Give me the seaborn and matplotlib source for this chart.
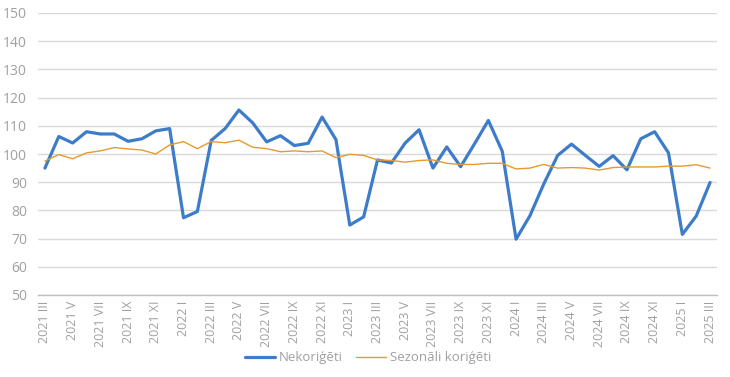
import pandas as pd
import matplotlib
matplotlib.use('Agg')
import matplotlib.pyplot as plt
import seaborn as sns
import numpy as np

# monthly index values, 2021 III .. 2025 III
nekorigeti = [95.0, 106.2, 103.9, 107.9, 107.1, 107.1, 104.5, 105.4, 108.2, 109.0,
              77.4, 79.6, 104.8, 109.0, 115.6, 111.0, 104.3, 106.5, 103.0, 103.8,
              113.1, 105.1, 74.8, 77.7, 97.9, 96.8, 103.9, 108.6, 95.0, 102.5,
              95.5, 103.6, 111.9, 101.0, 69.8, 78.1, 89.4, 99.5, 103.5, 99.5,
              95.6, 99.4, 94.4, 105.4, 107.9, 100.4, 71.5, 78.0, 89.9]
sezonali = [97.5, 99.8, 98.3, 100.4, 101.1, 102.3, 101.8, 101.4, 100.0, 103.2,
            104.4, 101.9, 104.4, 104.0, 104.9, 102.4, 101.9, 100.8, 101.1, 100.8,
            101.1, 98.7, 99.9, 99.5, 97.9, 97.7, 97.1, 97.7, 97.9, 96.7,
            96.3, 96.3, 96.7, 96.7, 94.7, 95.0, 96.3, 95.0, 95.2, 95.0,
            94.3, 95.2, 95.4, 95.4, 95.4, 95.7, 95.7, 96.2, 95.0]
tick_labels = ['2021 III', '2021 V', '2021 VII', '2021 IX', '2021 XI',
               '2022 I', '2022 III', '2022 V', '2022 VII', '2022 IX', '2022 XI',
               '2023 I', '2023 III', '2023 V', '2023 VII', '2023 IX', '2023 XI',
               '2024 I', '2024 III', '2024 V', '2024 VII', '2024 IX', '2024 XI',
               '2025 I', '2025 III']

n = len(nekorigeti)
df = pd.DataFrame({
    'idx': list(range(n)) * 2,
    'value': nekorigeti + sezonali,
    'series': ['Nekoriģēti'] * n + ['Sezonāli koriģēti'] * n,
})

sns.set_style('white')
plt.rcParams['font.family'] = ['Open Sans', 'DejaVu Sans']

grey = '#a0a0a0'
blue = '#3d7cc9'
orange = '#e69a2e'

fig = plt.figure(figsize=(7.3, 3.77), dpi=100)
ax = fig.add_axes([38 / 730, 1 - 295 / 377, 679 / 730, 282 / 377])

sns.lineplot(data=df, x='idx', y='value', hue='series', ax=ax,
             palette={'Nekoriģēti': blue, 'Sezonāli koriģēti': orange},
             size='series', sizes={'Nekoriģēti': 2.3, 'Sezonāli koriģēti': 1.0},
             legend=False)

ax.set_ylim(50, 150)
ax.set_xlim(-0.5, n - 0.5)
ax.set_yticks(np.arange(50, 151, 10))
ax.yaxis.grid(True, color='#d9d9d9', linewidth=1)
ax.set_axisbelow(True)
for s in ['left', 'right', 'top']:
    ax.spines[s].set_visible(False)
ax.spines['bottom'].set_color('#bfbfbf')
ax.spines['bottom'].set_linewidth(1)

# labels every 2 months, tick marks every 3 categories
ax.set_xticks(np.arange(0, n, 2))
ax.set_xticklabels(tick_labels, rotation=90)
ax.set_xticks(np.arange(-0.5, n - 1, 3), minor=True)
ax.tick_params(axis='x', which='major', length=0, pad=4, labelsize=9, labelcolor=grey)
ax.tick_params(axis='x', which='minor', length=5, color='#bfbfbf', width=1, direction='out')
ax.tick_params(axis='y', length=0, labelsize=10, labelcolor=grey, pad=8)
ax.set_xlabel('')
ax.set_ylabel('')

handles = [plt.Line2D([], [], color=blue, linewidth=2.3),
           plt.Line2D([], [], color=orange, linewidth=1.0)]
fig.legend(handles, ['Nekoriģēti', 'Sezonāli koriģēti'], loc='center',
           bbox_to_anchor=(368 / 730, 1 - 358 / 377), ncol=2, frameon=False,
           fontsize=9.5, labelcolor=grey, handlelength=2.3, handletextpad=0.3,
           columnspacing=1.0)

fig.savefig('out.png', dpi=100)
